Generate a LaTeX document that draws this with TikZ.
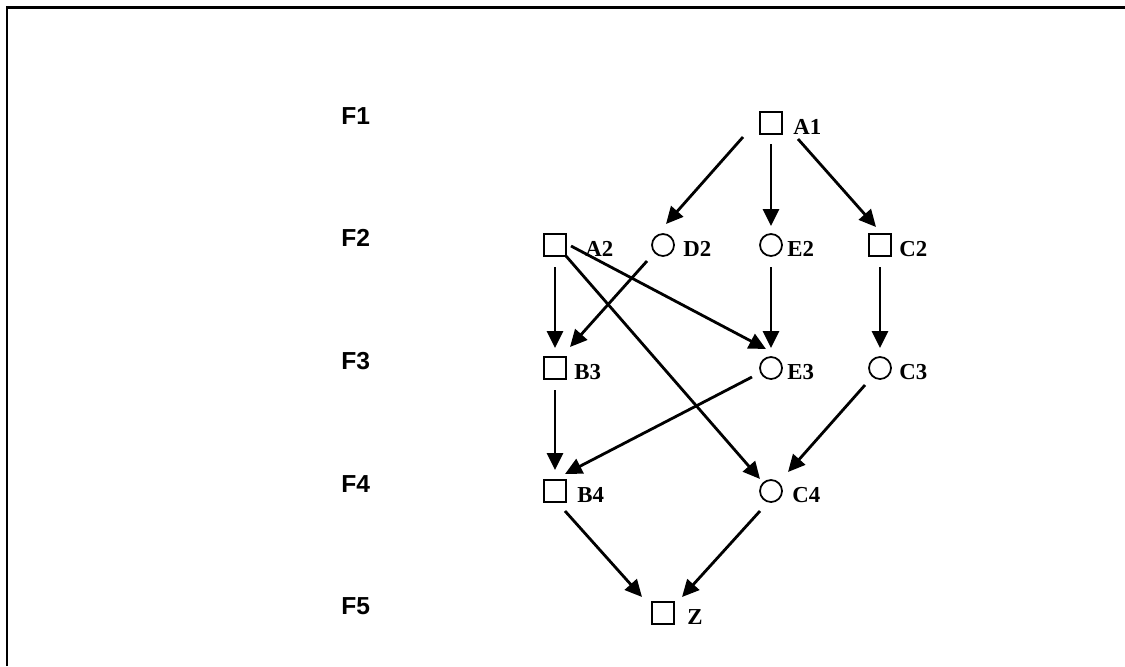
\documentclass[tikz,border=0pt]{standalone}
\usepackage{fontspec}
\setmainfont{Liberation Serif}
\setsansfont{Liberation Sans}
\usetikzlibrary{arrows.meta}

\begin{document}
\begin{tikzpicture}[x=0.02cm,y=-0.02cm,
    sq/.style={draw,rectangle,minimum size=0.43cm,inner sep=0pt,line width=1pt},
    rd/.style={draw,circle,minimum size=0.44cm,inner sep=0pt,line width=1pt},
    lbl/.style={anchor=base west,inner sep=0pt,font=\fontsize{13}{15}\selectfont\bfseries},
    lvl/.style={anchor=base west,inner sep=0pt,font=\fontsize{14}{16}\selectfont\sffamily\bfseries},
    arr/.style={line width=1.6pt,-{Triangle[length=0.34cm,width=0.32cm]}}]
    \useasboundingbox (0,0) rectangle (1125,666);
    \draw[line width=1.6pt] (7,666) -- (7,7.5) -- (1125,7.5);
    % levels
    \foreach \r/\y in {1/124,2/246,3/369,4/492,5/614} {\node[lvl] (F\r) at (341,\y) {F\r};}
    % nodes:  name / x / y / shape / label offset
    \foreach \n/\x/\y/\s/\dx in {A1/771/123/sq/22, A2/555/245/sq/30, D2/663/245/rd/20, E2/771/245/rd/16,
        C2/880/245/sq/19, B3/555/368/sq/19, E3/771/368/rd/16, C3/880/368/rd/19,
        B4/555/491/sq/22, C4/771/491/rd/21, Z/663/613/sq/24}
      {\node[\s] (\n) at (\x,\y) {};
       \node[lbl] (\n-t) at ([shift={(\dx,11)}]\n.center) {\n};}
    % arcs
    \foreach \a/\ax/\ay/\b/\bx/\by in {A1/-28/14/D2/3/-21, A1/0/21/E2/0/-19, A1/27/16/C2/-4/-18,
        A2/0/22/B3/0/-20, A2/16/1/E3/-5/-19, A2/11/11/C4/-11/-12, D2/-16/16/B3/15/-21,
        E2/0/22/E3/0/-20, C2/0/22/C3/0/-20, B3/0/22/B4/0/-21, E3/-19/9/B4/10/-17,
        C3/-15/17/C4/17/-19, B4/10/20/Z/-21/-16, C4/-11/20/Z/19/-16}
      {\draw[arr] ([shift={(\ax,\ay)}]\a.center) -- ([shift={(\bx,\by)}]\b.center);}
\end{tikzpicture}
\end{document}
